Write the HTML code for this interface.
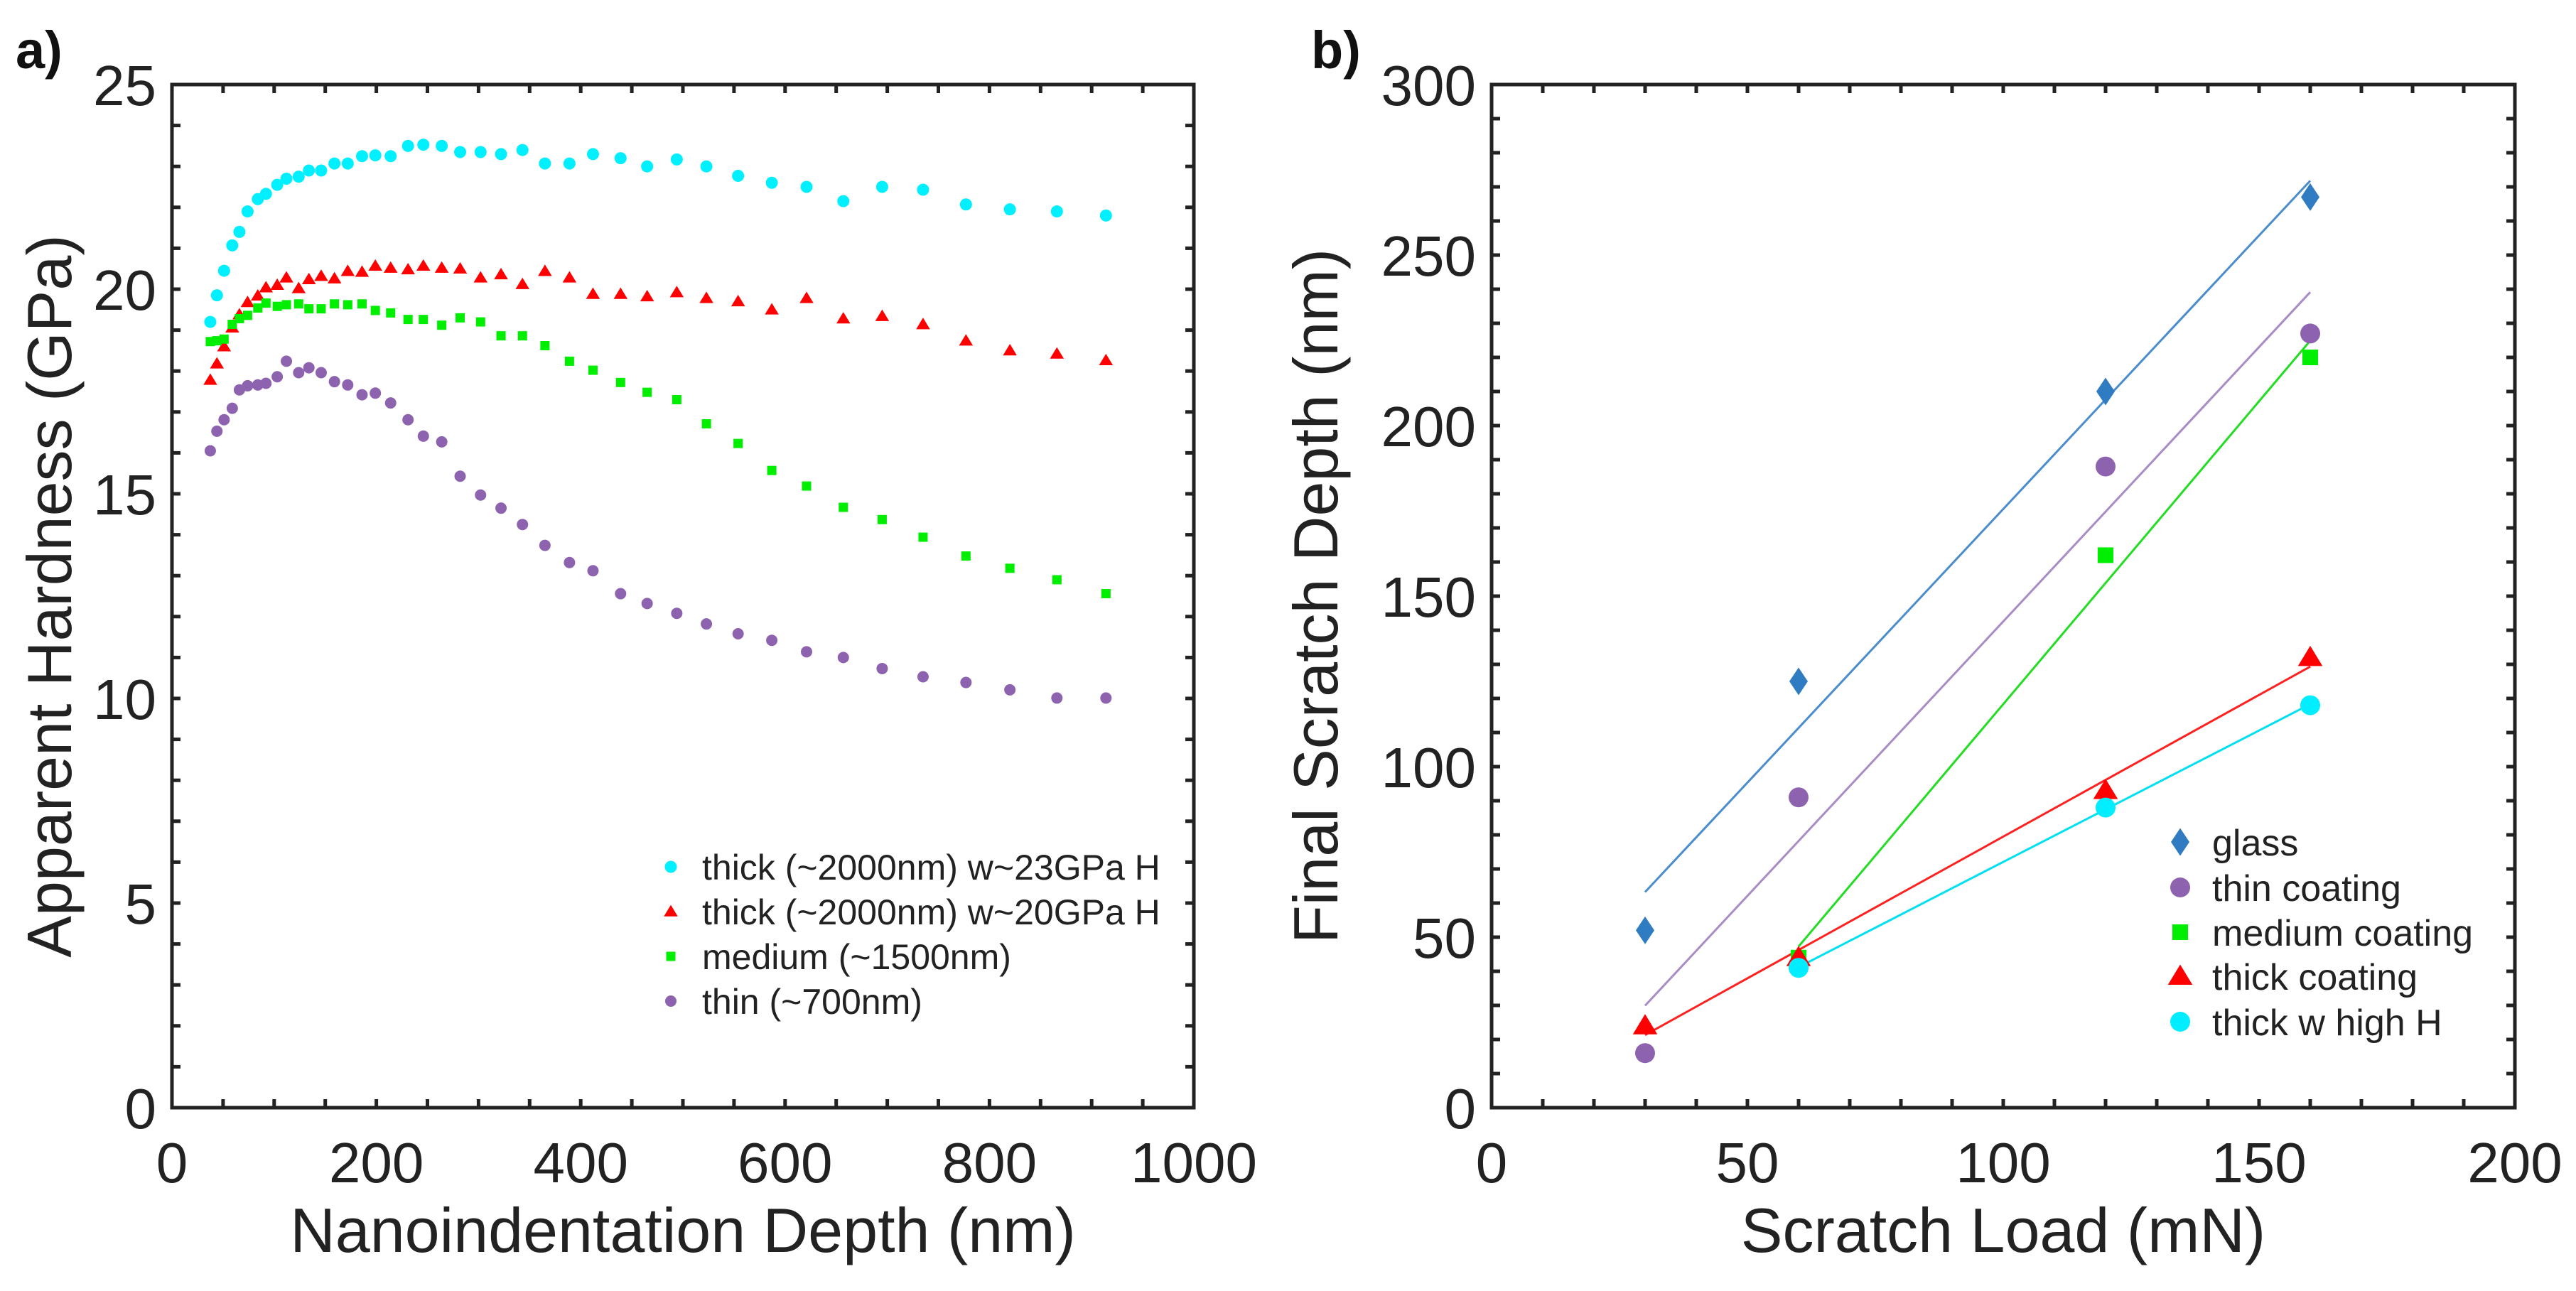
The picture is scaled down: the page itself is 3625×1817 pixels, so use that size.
<!DOCTYPE html>
<html><head><meta charset="utf-8">
<style>
html,body{margin:0;padding:0;background:#fff;}
svg{display:block;font-family:"Liberation Sans",Arial,sans-serif;}
</style></head>
<body>
<svg id="fig" width="3625" height="1817" viewBox="0 0 3625 1817" xmlns="http://www.w3.org/2000/svg">
<rect x="0" y="0" width="3625" height="1817" fill="#fff"/>
<text x="22" y="96" font-size="74" font-weight="bold" fill="#111">a)</text>
<text x="1845" y="96" font-size="74" font-weight="bold" fill="#111">b)</text>
<g id="pa"></g>
<g id="pb"></g>
</svg>
<script>
// ---------- Panel a data ----------
const depthA = [37.5,44,51,59,66,74,84,92,103,112,124,134,146,159,172,186,199,214,231,246,264,282,302,322,343,365,389,412,439,465,494,523,554,587,621,657,695,735,777,820,866,914];
const hardCyan = [19.2,19.85,20.45,21.07,21.4,21.9,22.2,22.33,22.55,22.7,22.75,22.9,22.9,23.07,23.07,23.25,23.27,23.25,23.5,23.53,23.5,23.35,23.35,23.3,23.4,23.07,23.07,23.3,23.2,23.0,23.17,23.0,22.77,22.6,22.5,22.15,22.5,22.43,22.07,21.95,21.9,21.8];
const hardRed = [17.78,18.18,18.6,19.06,19.38,19.68,19.84,20.04,20.1,20.28,20.02,20.24,20.32,20.26,20.44,20.42,20.57,20.52,20.48,20.57,20.52,20.5,20.28,20.36,20.12,20.44,20.28,19.88,19.88,19.82,19.92,19.78,19.7,19.5,19.78,19.28,19.34,19.14,18.74,18.5,18.42,18.26];
const hardGreen = [18.72,18.74,18.78,19.14,19.28,19.36,19.54,19.66,19.58,19.62,19.64,19.52,19.52,19.64,19.62,19.64,19.48,19.42,19.26,19.26,19.12,19.3,19.2,18.86,18.86,18.62,18.24,18.02,17.72,17.48,17.3,16.71,16.23,15.57,15.19,14.67,14.37,13.94,13.48,13.18,12.9,12.56];
const hardPurple = [16.05,16.53,16.81,17.09,17.54,17.64,17.66,17.7,17.86,18.24,17.96,18.08,17.96,17.74,17.66,17.42,17.46,17.22,16.81,16.41,16.27,15.43,14.97,14.65,14.25,13.74,13.32,13.12,12.56,12.32,12.08,11.82,11.58,11.42,11.14,11.0,10.73,10.53,10.39,10.21,10.01,10.01];
const ticksAx = [0,200,400,600,800,1000];
const ticksAy = [0,5,10,15,20,25];
const legendA = ["thick (~2000nm) w~23GPa H","thick (~2000nm) w~20GPa H","medium (~1500nm)","thin (~700nm)"];

// ---------- Panel b data ----------
const loadGlass = [30,60,120,160];
const depthGlass = [52,125,210,267];
const loadThin = [30,60,120,160];
const depthThin = [16,91,188,227];
const loadMedium = [60,120,160];
const depthMedium = [44,162,220];
const loadThick = [30,60,120,160];
const depthThick = [24,44,93,132];
const loadHigh = [60,120,160];
const depthHigh = [41,88,118];
const ticksBx = [0,50,100,150,200];
const ticksBy = [0,50,100,150,200,250,300];
const legendB = ["glass","thin coating","medium coating","thick coating","thick w high H"];

const NS = "http://www.w3.org/2000/svg";
function mk(parent, tag, attrs){
  const e = document.createElementNS(NS, tag);
  for (const k in attrs) e.setAttribute(k, attrs[k]);
  parent.appendChild(e);
  return e;
}
function marker(g, shape, cx, cy, s, color){
  let e;
  if (shape==="circle"){ e = mk(g,"circle",{cx:cx,cy:cy,r:s,fill:color}); }
  else if (shape==="square"){ e = mk(g,"rect",{x:cx-s,y:cy-s,width:2*s,height:2*s,fill:color}); }
  else if (shape==="triangle"){ e = mk(g,"polygon",{points:`${cx},${cy-s*1.1} ${cx+s*1.15},${cy+s*0.8} ${cx-s*1.15},${cy+s*0.8}`,fill:color}); }
  else { e = mk(g,"polygon",{points:`${cx},${cy-s*1.5} ${cx+s},${cy} ${cx},${cy+s*1.5} ${cx-s},${cy}`,fill:color}); }
  return e;
}
function axes(g, L, T, R, B, xmin, xmax, ymin, ymax, xt, yt, xminor, yminor, xtitle, ytitle, ytitleX){
  const sx = v => L + (v-xmin)/(xmax-xmin)*(R-L);
  const sy = v => B - (v-ymin)/(ymax-ymin)*(B-T);
  const tk = mk(g,"g",{stroke:"#222","stroke-width":5});
  
  
  for (let v=xmin; v<=xmax+1e-9; v+=xminor){
    const x=sx(v);
    mk(tk,"line",{x1:x,y1:B,x2:x,y2:B-12});
    mk(tk,"line",{x1:x,y1:T,x2:x,y2:T+12});
  }
  for (let v=ymin; v<=ymax+1e-9; v+=yminor){
    const y=sy(v);
    mk(tk,"line",{x1:L,y1:y,x2:L+12,y2:y});
    mk(tk,"line",{x1:R,y1:y,x2:R-12,y2:y});
  }
  xt.forEach(v=>{
    const t = mk(g,"text",{x:sx(v),y:B+105,"font-size":80,"text-anchor":"middle",fill:"#222"});
    t.textContent = v;
    
    
  });
  yt.forEach(v=>{
    const t = mk(g,"text",{x:L-22,y:sy(v)+29,"font-size":80,"text-anchor":"end",fill:"#222"});
    t.textContent = v;
    
    
  });
  const xtl = mk(g,"text",{x:(L+R)/2,y:1762,"font-size":88,"text-anchor":"middle",fill:"#222"});
  xtl.textContent = xtitle;
  
  
  const ytl = mk(g,"text",{x:0,y:0,"font-size":88,"text-anchor":"middle",fill:"#222",transform:`translate(${ytitleX},${(T+B)/2}) rotate(-90)`});
  ytl.textContent = ytitle;
  
  
  return {sx, sy};
}
function frame(g,L,T,R,B){
  const f = mk(g,"rect",{x:L,y:T,width:R-L,height:B-T,fill:"none",stroke:"#222","stroke-width":5});
  
  
}

// ----- Panel a -----
(function(){
  const g = document.getElementById("pa");
  const L=242,T=119,R=1680,B=1559;
  const {sx,sy} = axes(g,L,T,R,B,0,1000,0,25,ticksAx,ticksAy,50,1,"Nanoindentation Depth (nm)","Apparent Hardness (GPa)",100);
  const series = [
    {vals:hardCyan, color:"#00f0ff", shape:"circle", s:8.5, name:"series-thick-23gpa"},
    {vals:hardRed, color:"#ff0000", shape:"triangle", s:8.5, name:"series-thick-20gpa"},
    {vals:hardGreen, color:"#00ee00", shape:"square", s:6.5, name:"series-medium"},
    {vals:hardPurple, color:"#8d63b0", shape:"circle", s:8, name:"series-thin"}
  ];
  series.forEach((se,si)=>{
    const sg = mk(g,"g",{});
    
    
    se.vals.forEach((v,i)=>{
      const m = marker(sg,se.shape,sx(depthA[i]),sy(v),se.s,se.color);
      
      
    });
    const ly = 1220 + si*63;
    const lm = marker(g,se.shape,944,ly,se.s,se.color);
    
    
    const lt = mk(g,"text",{x:988,y:ly+18,"font-size":50,fill:"#222"});
    lt.textContent = legendA[si];
    
    
  });
  frame(g,L,T,R,B);
})();

// ----- Panel b -----
(function(){
  const g = document.getElementById("pb");
  const L=2099,T=119,R=3539,B=1559;
  const {sx,sy} = axes(g,L,T,R,B,0,200,0,300,ticksBx,ticksBy,10,10,"Scratch Load (mN)","Final Scratch Depth (nm)",1882);
  function fit(xs,ys){
    const n=xs.length, mx=xs.reduce((a,b)=>a+b)/n, my=ys.reduce((a,b)=>a+b)/n;
    let sxy=0,sxx=0; xs.forEach((x,i)=>{sxy+=(x-mx)*(ys[i]-my); sxx+=(x-mx)*(x-mx);});
    const k=sxy/sxx; return x=>my+k*(x-mx);
  }
  const series = [
    {xs:loadGlass, ys:depthGlass, color:"#2f7cc2", line:"#4a8ccc", shape:"diamond", s:13, name:"series-glass"},
    {xs:loadThin, ys:depthThin, color:"#8d63b0", line:"#a88cc6", shape:"circle", s:14, name:"series-thin-coating"},
    {xs:loadMedium, ys:depthMedium, color:"#00ee00", line:"#22dd22", shape:"square", s:11, name:"series-medium-coating"},
    {xs:loadThick, ys:depthThick, color:"#ff0000", line:"#ff2020", shape:"triangle", s:15, name:"series-thick-coating"},
    {xs:loadHigh, ys:depthHigh, color:"#00eeff", line:"#00e0f0", shape:"circle", s:14, name:"series-thick-high-h"}
  ];
  series.forEach((se,si)=>{
    const sg = mk(g,"g",{});
    
    
    const f = fit(se.xs,se.ys);
    const x0 = se.xs[0], x1 = se.xs[se.xs.length-1];
    const ln = mk(sg,"line",{x1:sx(x0),y1:sy(f(x0)),x2:sx(x1),y2:sy(f(x1)),stroke:se.line,"stroke-width":3});
    
    
  });
  series.forEach((se,si)=>{
    const sg = mk(g,"g",{});
    
    
    se.xs.forEach((x,i)=>{
      const m = marker(sg,se.shape,sx(x),sy(se.ys[i]),se.s,se.color);
      
      
    });
    const ly = [1185,1249,1312,1374,1438][si];
    const lm = marker(g,se.shape,3068,ly,se.s,se.color);
    
    
    const lt = mk(g,"text",{x:3113,y:ly+19,"font-size":52,fill:"#222"});
    lt.textContent = legendB[si];
    
    
  });
  frame(g,L,T,R,B);
})();
</script>
</body></html>
